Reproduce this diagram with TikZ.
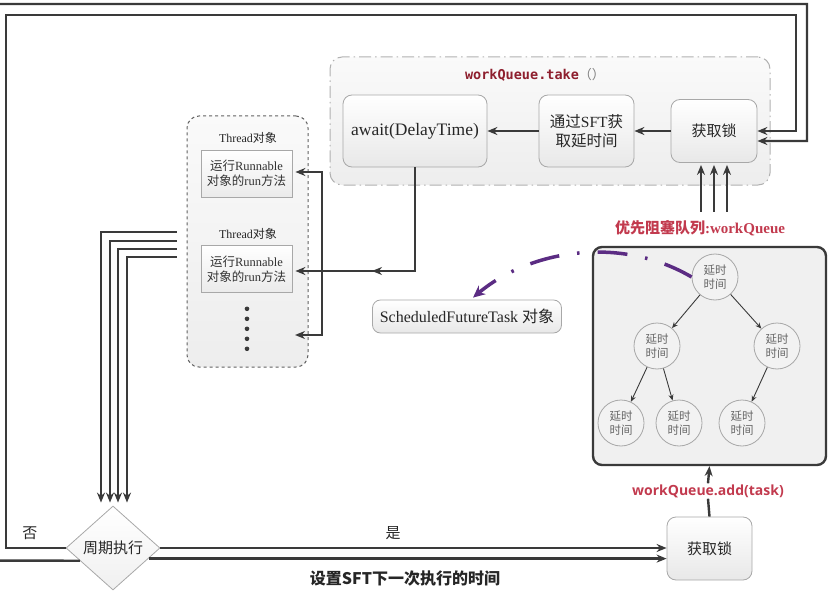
\documentclass[tikz,border=0pt]{standalone}
\usepackage{fontspec}
\setmainfont{Liberation Serif}
\newfontfamily\cjk{Noto Sans CJK SC}
\newfontfamily\osans{Open Sans}
\newfontfamily\mono{DejaVu Sans Mono}
\usetikzlibrary{arrows.meta,shapes.geometric,calc}
\definecolor{ln}{HTML}{3A3A3A}
\definecolor{bx}{HTML}{A8A8A8}
\definecolor{qred}{HTML}{C23A4E}
\definecolor{tred}{HTML}{8E1F2E}
\definecolor{purp}{HTML}{5B2C83}
\newcommand\fs[2]{\fontsize{#1}{#2}\selectfont}
\begin{document}
\begin{tikzpicture}[x=1pt,y=-1pt,
  flow/.style={line width=2.4pt, draw=ln, -{Stealth[length=10pt,width=8pt]}},
  plain/.style={line width=2.4pt, draw=ln},
  tree/.style={line width=0.9pt, draw=ln, -{Stealth[length=6pt,width=5pt]}},
  gbox/.style={draw=bx, line width=0.8pt, rounded corners=9pt, top color=white, bottom color=black!9, align=center, inner sep=0pt, text=black!85},
  ibox/.style={draw=bx, line width=0.8pt, top color=white, bottom color=black!8, align=center, inner sep=0pt, text=black!80},
  cn/.style={circle, draw=bx, line width=0.8pt, fill=black!5, minimum size=46pt, inner sep=0pt, text=black!60, font=\cjk\fs{11.5}{14}, align=center},
  lbl/.style={inner sep=1pt, text=black!85}
]
\useasboundingbox (0,0) rectangle (839,602);
\clip (0,0) rectangle (839,602);

% big containers
\node[draw=bx!90, line width=1pt, dash pattern=on 12pt off 4pt on 1.5pt off 4pt, rounded corners=12pt, top color=black!2, bottom color=black!7, minimum width=440pt, minimum height=128pt] (take) at (550,121) {};
\node[lbl] (takel) at (535,75) {{\mono\bfseries\fs{13.5}{16}\color{tred}workQueue.take}{\cjk\fs{13}{16}\color{black!50}（）}};

\node[draw=ln!80, line width=1pt, dashed, rounded corners=12pt, top color=black!2, bottom color=black!7, minimum width=121pt, minimum height=251pt] (tb) at (247.5,241.5) {};

% top row
\node[gbox, minimum width=144pt, minimum height=72pt, font=\fs{17.5}{20}] (await) at (415,131) {await(DelayTime)};
\node[gbox, minimum width=95pt, minimum height=72pt, font=\fs{15.5}{19}] (sftt) at (586.5,131) {{\cjk 通过}SFT{\cjk 获}\\{\cjk 取延时间}};
\node[gbox, minimum width=86pt, minimum height=63pt, font=\cjk\fs{15}{18}] (lockT) at (714,131) {获取锁};
\draw[flow] (lockT.west) -- (sftt.east);
\draw[flow] (sftt.west) -- (await.east);

% thread column
\node[lbl, font=\fs{12}{13}] (th1) at (248,138) {Thread{\cjk 对象}};
\node[ibox, minimum width=91pt, minimum height=47pt, font=\fs{12.5}{15}] (r1) at (246.5,173.5) {{\cjk 运行}Runnable\\{\cjk 对象的}run{\cjk 方法}};
\node[lbl, font=\fs{12}{13}] (th2) at (248,234) {Thread{\cjk 对象}};
\node[ibox, minimum width=91pt, minimum height=47pt, font=\fs{12.5}{15}] (r2) at (246.5,269) {{\cjk 运行}Runnable\\{\cjk 对象的}run{\cjk 方法}};
\node[minimum width=6pt, minimum height=44pt, inner sep=0pt] (dots) at (247,329) {};
\foreach \k in {0,...,4} \fill[ln] ($(dots.north)+(0,2+10*\k)$) circle (2.3pt);

% await -> threads
\coordinate (jn) at (322,271);
\draw[plain] (await.south) |- (jn);
\draw[flow] (390,271) -- (372,271);
\draw[flow] (jn) -- ($(r2.east)+(3,2)$);
\draw[flow] (jn) |- ($(r1.east)+(3,-1.5)$);
\draw[flow] (jn) |- ($(dots.center)+(48,6)$);

% ScheduledFutureTask
\node[gbox, rounded corners=8pt, minimum width=189pt, minimum height=33pt, font=\fs{16}{18}] (sft) at (467,316.5) {ScheduledFutureTask {\cjk 对象}};

% heap
\node[draw=ln, line width=2.4pt, rounded corners=9pt, fill=black!6, minimum width=233pt, minimum height=218pt] (heap) at (709.5,356) {};
\node[cn] (c1) at (715,277) {延时\\时间};
\node[cn] (c2) at (657,346) {延时\\时间};
\node[cn] (c3) at (777,346) {延时\\时间};
\node[cn] (c4) at (621,423) {延时\\时间};
\node[cn] (c5) at (679,423) {延时\\时间};
\node[cn] (c6) at (742,423) {延时\\时间};
\draw[tree] (c1) -- (c2);
\draw[tree] (c1) -- (c3);
\draw[tree] (c2) -- (c4);
\draw[tree] (c2) -- (c5);
\draw[tree] (c3) -- (c6);

\node[lbl, text=qred, font=\bfseries\fs{15}{17}] (ql) at (700,228) {{\cjk 优先阻塞队列}:workQueue};
\foreach \dx in {-13,0,13} \draw[flow] ($(lockT.south)+(\dx,49)$) -- ($(lockT.south)+(\dx,2)$);

% purple dash-dot curve
\draw[draw=purp, line width=3.5pt, dash pattern=on 30pt off 18pt on 2.5pt off 18pt, -{Stealth[length=12pt,width=11pt]}] (c1.west) .. controls (620,235) and (530,250) .. ($(sft.north)+(6,-2)$);

% bottom lock
\node[gbox, minimum width=85pt, minimum height=63pt, font=\cjk\fs{15}{18}] (lockB) at (709.5,548.5) {获取锁};
\node[lbl, text=qred, font=\osans\bfseries\fs{14}{16}] (addl) at (708,491) {workQueue.add(task)};
\draw[plain] (lockB.north) -- (addl.south);
\draw[flow] (addl.north) -- (heap.south);

% diamond
\node[diamond, draw=bx, line width=0.8pt, top color=white, bottom color=black!6, minimum width=94pt, minimum height=84pt, inner sep=0pt, font=\cjk\fs{15}{18}, text=black!85] (d) at (113,548) {周期执行};

\foreach \dy/\dx in {-9.5/-12, -0.5/-3, 7.5/5, 15.5/14}
  \draw[flow] ($(tb.west)+(-10,\dy)$) -| ($(d.north)+(\dx,-3)$);

\coordinate (dr2) at ($(d.east)!0.25!(d.south)$);
\coordinate (dl2) at ($(d.west)!0.3!(d.south)$);
\draw[flow] (d.east) -- (d.east -| lockB.west);
\draw[flow] (dr2) -- (dr2 -| lockB.west);

\draw[flow] (d.west) -- (6,548) |- (796,15) |- (lockT.east);
\draw[flow] (dl2) -- (-4,560.6) |- (807,4) |- ($(lockT.east)+(0,10)$);

\node[lbl, font=\cjk\fs{15}{17}] (no) at (30,533) {否};
\node[lbl, font=\cjk\fs{15}{17}] (yes) at (393,533) {是};
\node[lbl, font=\cjk\bfseries\fs{16}{18}] (setl) at (405,578) {设置SFT下一次执行的时间};
\end{tikzpicture}
\end{document}
